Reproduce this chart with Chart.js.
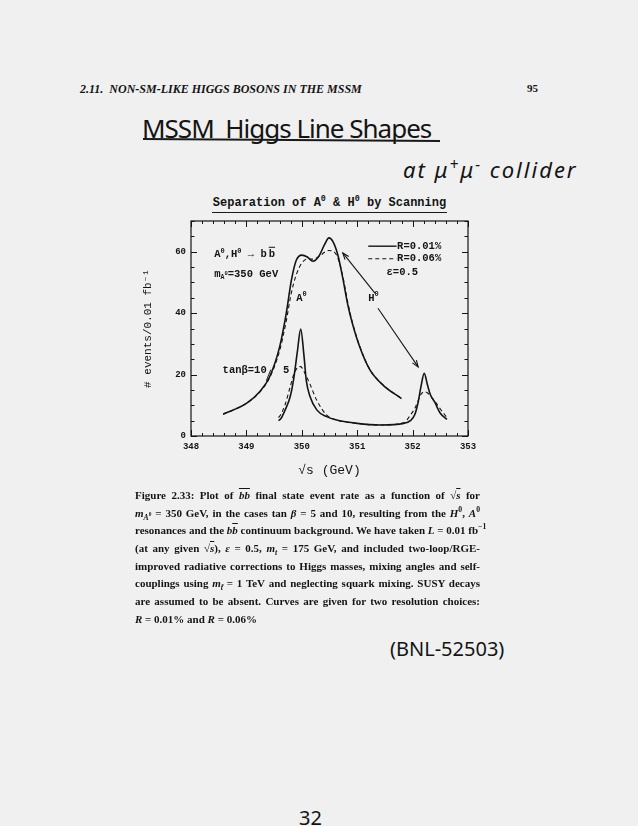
<!DOCTYPE html>
<html><head><meta charset="utf-8">
<script src="https://cdn.jsdelivr.net/npm/chart.js@4/dist/chart.umd.min.js"></script>
<style>
html,body{margin:0;padding:0;background:#f0f0f0;}
body{width:638px;height:826px;position:relative;overflow:hidden;color:#141414;font-family:"Liberation Serif",serif;}
.a{position:absolute;white-space:nowrap;line-height:1;}
#hdr{left:80px;top:82px;font:italic bold 12px "Liberation Serif";}
#pg{left:527px;top:82px;font:bold 11px "Liberation Serif";}
#hand1{left:142px;top:110px;font:26px "Noto Sans";letter-spacing:-1px;}
#ul1{left:143px;top:139px;width:297px;height:2px;background:#1a1a1a;transform:rotate(0.4deg);}
#hand2{left:403px;top:154px;font:italic 22px "Noto Sans";letter-spacing:2px;}
#ctitle{left:212px;top:196px;width:235px;text-align:center;font:bold 12px "Liberation Mono";border-bottom:1.5px solid #1a1a1a;padding-bottom:2px;}
#cap{left:135px;top:488px;width:345px;font:bold 11px "Liberation Serif";}
#cap div{height:17.7px;line-height:14px;text-align:justify;text-align-last:justify;white-space:nowrap;}
#cap div.last{text-align-last:left;}
.ov{text-decoration:overline;}
sup,sub{font-size:70%;line-height:0;}
#bnl{left:390px;top:635px;font:20px "Noto Sans";}
#p32{left:299px;top:804px;font:20px "Noto Sans";}
#wrap{position:absolute;left:0;top:180px;width:638px;height:310px;}
</style></head>
<body>
<div class="a" id="hdr">2.11.&nbsp;&nbsp;NON-SM-LIKE HIGGS BOSONS IN THE MSSM</div>
<div class="a" id="pg">95</div>
<div class="a" id="hand1">MSSM&nbsp; Higgs Line Shapes</div>
<div class="a" id="ul1"></div>
<div class="a" id="hand2">at μ<sup>+</sup>μ<sup>−</sup> collider</div>
<div class="a" id="ctitle">Separation of A<sup>0</sup> &amp; H<sup>0</sup> by Scanning</div>
<div id="wrap"><canvas id="c" width="638" height="310"></canvas></div>
<div class="a" id="cap">
<div><b style="font-weight:900">Figure 2.33:</b> Plot of <i class="ov">bb</i> final state event rate as a function of √<span class="ov"><i>s</i></span> for</div>
<div><i>m</i><sub><i>A</i><sup>0</sup></sub> = 350 GeV, in the cases tan <i>β</i> = 5 and 10, resulting from the <i>H</i><sup>0</sup>, <i>A</i><sup>0</sup></div>
<div>resonances and the <i>b<span class="ov">b</span></i> continuum background. We have taken <i>L</i> = 0.01 fb<sup>−1</sup></div>
<div>(at any given √<span class="ov"><i>s</i></span>), <i>ε</i> = 0.5, <i>m<sub>t</sub></i> = 175 GeV, and included two-loop/RGE-</div>
<div>improved radiative corrections to Higgs masses, mixing angles and self-</div>
<div>couplings using <i>m</i><sub><i>t̃</i></sub> = 1 TeV and neglecting squark mixing. SUSY decays</div>
<div>are assumed to be absent. Curves are given for two resolution choices:</div>
<div class="last"><i>R</i> = 0.01% and <i>R</i> = 0.06%</div>
</div>
<div class="a" id="bnl">(BNL-52503)</div>
<div class="a" id="p32">32</div>
<script>
// ---- data ----
const xTickLabels = [348, 349, 350, 351, 352, 353];
const yTickLabels = [0, 20, 40, 60];
// wide curve (tan beta = 10)
const wideX = [348.58,349.00,349.24,349.42,349.60,349.72,349.81,349.90,350.00,350.10,350.20,350.31,350.41,350.49,350.56,350.65,350.74,350.83,350.92,351.05,351.23,351.47,351.80];
const wideR001 = [7.1,10.6,14.4,19.3,29.0,40.0,50.5,57.2,58.9,58.3,56.9,58.6,62.3,64.5,63.4,59.0,51.4,42.7,36.2,28.8,21.5,16.5,12.2];
const wideR006 = [7.1,10.6,14.3,19.0,27.8,37.5,46.5,52.5,56.3,57.6,57.6,58.4,59.8,60.4,60.2,58.0,52.0,43.5,36.5,29.0,21.6,16.6,12.2];
// narrow curve (tan beta = 5), A0 peak and H0 peak
const narrowX = [349.58,349.62,349.70,349.79,349.85,349.92,349.98,350.04,350.08,350.15,350.27,350.45,350.63,351.00,351.42,351.84,351.96,352.04,352.10,352.15,352.21,352.27,352.32,352.40,352.50,352.62];
const narrowR001 = [5.0,5.6,8.5,12.8,18.2,27.5,34.8,26.0,18.2,12.8,8.5,6.3,5.2,4.1,3.6,4.1,5.0,7.0,11.0,16.0,20.4,16.5,13.5,11.0,7.4,5.4];
const narrowR006 = [6.0,7.0,10.3,16.0,19.8,22.2,22.6,21.0,19.5,16.8,11.6,6.8,5.2,4.1,3.6,4.3,6.8,9.0,11.5,13.5,14.4,14.0,13.0,11.3,8.8,6.0];

const pts = (xs, ys) => xs.map((x, i) => ({x, y: ys[i]}));
const INK = '#141414';
const MONO = '"Liberation Mono", monospace';

const solid = {borderColor: INK, borderWidth: 1.6, pointRadius: 0, fill: false, cubicInterpolationMode: 'monotone'};
const dashed = {borderColor: INK, borderWidth: 1.1, borderDash: [4, 3], pointRadius: 0, fill: false, cubicInterpolationMode: 'monotone'};

const decor = {
  id: 'decor',
  afterDraw(chart) {
    const {ctx, chartArea: a, scales: {x, y}} = chart;
    ctx.save();
    ctx.strokeStyle = INK; ctx.fillStyle = INK;
    ctx.lineWidth = 1.2;
    ctx.strokeRect(a.left, a.top, a.right - a.left, a.bottom - a.top);
    // inward ticks
    ctx.lineWidth = 1;
    ctx.beginPath();
    for (let i = 0; i <= 25; i++) {
      const v = 348 + i * 0.2, px = Math.round(x.getPixelForValue(v)) + 0.5;
      const L = (i % 5 === 0) ? 6 : 3;
      ctx.moveTo(px, a.bottom); ctx.lineTo(px, a.bottom - L);
      ctx.moveTo(px, a.top); ctx.lineTo(px, a.top + L);
    }
    for (let i = 0; i <= 14; i++) {
      const v = i * 5, py = Math.round(y.getPixelForValue(v)) + 0.5;
      const L = (v % 20 === 0) ? 6 : 3.5;
      ctx.moveTo(a.left, py); ctx.lineTo(a.left + L, py);
      ctx.moveTo(a.right, py); ctx.lineTo(a.right - L, py);
    }
    ctx.stroke();
    // annotations
    const X = v => x.getPixelForValue(v), Y = v => y.getPixelForValue(v);
    ctx.textBaseline = 'middle';
    const f = (s, w) => (w || 'bold') + ' ' + s + 'px ' + MONO;
    // "A0,H0 -> b b"
    let px = X(348.42), py = Y(59.0);
    ctx.font = f(10.5); ctx.textAlign = 'left';
    ctx.fillText('A', px, py); px += ctx.measureText('A').width;
    ctx.font = f(7); ctx.fillText('0', px, py - 4); px += ctx.measureText('0').width;
    ctx.font = f(10.5); ctx.fillText(',H', px, py); px += ctx.measureText(',H').width;
    ctx.font = f(7); ctx.fillText('0', px, py - 4); px += ctx.measureText('0').width;
    ctx.font = f(10.5); ctx.fillText(' → b', px, py); px += ctx.measureText(' → b').width;
    const bw = ctx.measureText('b').width;
    ctx.fillText('b', px + 2, py);
    ctx.beginPath(); ctx.moveTo(px + 2, py - 7.5); ctx.lineTo(px + 2 + bw, py - 7.5); ctx.stroke();
    // "mA0=350 GeV"
    px = X(348.42); py = Y(52.5);
    ctx.font = f(10.5); ctx.fillText('m', px, py); px += ctx.measureText('m').width;
    ctx.font = f(6.5); ctx.fillText('A', px, py + 3); px += ctx.measureText('A').width;
    ctx.font = f(5.5); ctx.fillText('0', px, py - 1); px += ctx.measureText('0').width;
    ctx.font = f(10.5); ctx.fillText('=350 GeV', px, py);
    // A0, H0 labels
    const sup = (base, xv, yv) => {
      let p = X(xv); ctx.font = f(10.5); ctx.fillText(base, p, Y(yv));
      p += ctx.measureText(base).width; ctx.font = f(7); ctx.fillText('0', p, Y(yv) - 4);
    };
    sup('A', 349.90, 44.9);
    sup('H', 351.20, 44.9);
    ctx.font = f(10.5);
    ctx.fillText('tanβ=10', X(348.57), Y(21.5));
    ctx.fillText('5', X(349.66), Y(21.5));
    ctx.lineWidth = 1;
    ctx.beginPath(); ctx.moveTo(X(349.36), Y(18.0)); ctx.lineTo(X(349.44), Y(21.6)); ctx.stroke();
    // legend
    ctx.lineWidth = 1.4;
    ctx.beginPath(); ctx.moveTo(X(351.20), Y(61.8)); ctx.lineTo(X(351.71), Y(61.8)); ctx.stroke();
    ctx.lineWidth = 1.1; ctx.setLineDash([4, 3]);
    ctx.beginPath(); ctx.moveTo(X(351.20), Y(57.7)); ctx.lineTo(X(351.71), Y(57.7)); ctx.stroke();
    ctx.setLineDash([]);
    ctx.font = f(10.5);
    ctx.fillText('R=0.01%', X(351.72), Y(61.8));
    ctx.fillText('R=0.06%', X(351.72), Y(57.7));
    ctx.fillText('ε=0.5', X(351.53), Y(53.4));
    // arrows from H0
    const arrow = (x0, y0, x1, y1) => {
      const ax = X(x0), ay = Y(y0), bx = X(x1), by = Y(y1);
      ctx.lineWidth = 1.1;
      ctx.beginPath(); ctx.moveTo(ax, ay); ctx.lineTo(bx, by); ctx.stroke();
      const ang = Math.atan2(by - ay, bx - ax), h = 7, s = 0.35;
      ctx.beginPath();
      ctx.moveTo(bx - h * Math.cos(ang - s), by - h * Math.sin(ang - s));
      ctx.lineTo(bx, by);
      ctx.lineTo(bx - h * Math.cos(ang + s), by - h * Math.sin(ang + s));
      ctx.stroke();
    };
    arrow(351.32, 46.5, 350.74, 59.6);
    arrow(351.375, 41.6, 352.10, 22.5);
    ctx.restore();
  }
};

new Chart(document.getElementById('c'), {
  type: 'line',
  data: {
    datasets: [
      {label: 'R=0.01% tanβ=10', data: pts(wideX, wideR001), ...solid},
      {label: 'R=0.06% tanβ=10', data: pts(wideX, wideR006), ...dashed},
      {label: 'R=0.01% tanβ=5', data: pts(narrowX, narrowR001), ...solid},
      {label: 'R=0.06% tanβ=5', data: pts(narrowX, narrowR006), ...dashed}
    ]
  },
  options: {
    responsive: false, animation: false,
    layout: {padding: {left: 130, right: 170, top: 41, bottom: 0}},
    plugins: {legend: {display: false}, tooltip: {enabled: false}},
    scales: {
      x: {
        type: 'linear', min: 348, max: 353,
        afterFit(s) { s.height = 54; },
        afterBuildTicks(s) { s.ticks = xTickLabels.map(v => ({value: v})); },
        grid: {display: false, drawTicks: false}, border: {display: false},
        ticks: {padding: 5, color: INK, font: {family: MONO, size: 9, weight: 'bold'}, maxRotation: 0, autoSkip: false},
        title: {display: true, text: '√s (GeV)', color: INK, font: {family: MONO, size: 13}, padding: {top: 0, bottom: 12}}
      },
      y: {
        type: 'linear', min: 0, max: 70,
        afterFit(s) { s.width = 61; },
        afterBuildTicks(s) { s.ticks = yTickLabels.map(v => ({value: v})); },
        grid: {display: false, drawTicks: false}, border: {display: false},
        ticks: {padding: 5, color: INK, font: {family: MONO, size: 9, weight: 'bold'}},
        title: {display: true, text: '# events/0.01 fb⁻¹', color: INK, font: {family: MONO, size: 11}, padding: {top: 11, bottom: 0}}
      }
    }
  },
  plugins: [decor]
});
</script>
</body></html>
